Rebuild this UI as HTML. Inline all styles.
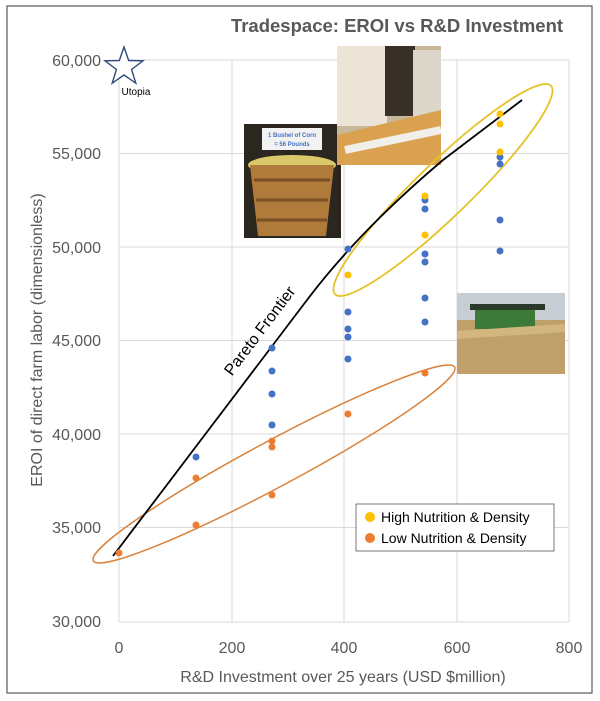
<!DOCTYPE html>
<html><head><meta charset="utf-8"><style>
html,body{margin:0;padding:0;background:#fff;}
svg{display:block;font-family:"Liberation Sans",sans-serif;}
</style></head><body>
<svg width="600" height="701" viewBox="0 0 600 701" xmlns="http://www.w3.org/2000/svg">
<rect x="0" y="0" width="600" height="701" fill="#fff"/>
<rect x="7" y="6" width="585" height="687" fill="none" stroke="#595959" stroke-width="1.2"/>
<text x="397" y="32" text-anchor="middle" font-size="18.5" font-weight="bold" fill="#595959">Tradespace: EROI vs R&amp;D Investment</text>
<g stroke="#d9d9d9" stroke-width="1">
<line x1="119" y1="60" x2="569" y2="60"/><line x1="119" y1="153.5" x2="569" y2="153.5"/>
<line x1="119" y1="247" x2="569" y2="247"/><line x1="119" y1="340.5" x2="569" y2="340.5"/>
<line x1="119" y1="434" x2="569" y2="434"/><line x1="119" y1="527.5" x2="569" y2="527.5"/>
<line x1="119" y1="622" x2="569" y2="622"/>
<line x1="119" y1="60" x2="119" y2="622"/><line x1="232" y1="60" x2="232" y2="622"/>
<line x1="344" y1="60" x2="344" y2="622"/><line x1="457" y1="60" x2="457" y2="622"/>
<line x1="569" y1="60" x2="569" y2="622"/>
</g>
<g font-size="16" fill="#595959" text-anchor="end">
<text x="101" y="66">60,000</text><text x="101" y="159">55,000</text><text x="101" y="253">50,000</text>
<text x="101" y="346">45,000</text><text x="101" y="440">40,000</text><text x="101" y="533">35,000</text>
<text x="101" y="627">30,000</text>
</g>
<g font-size="16" fill="#595959" text-anchor="middle">
<text x="119" y="653">0</text><text x="232" y="653">200</text><text x="344" y="653">400</text>
<text x="457" y="653">600</text><text x="569" y="653">800</text>
<text x="343" y="682">R&amp;D Investment over 25 years (USD $million)</text>
<text transform="translate(42,340) rotate(-90)">EROI of direct farm labor (dimensionless)</text>
</g>
<!-- images -->
<g>
<rect x="244" y="124" width="97" height="114" fill="#2b2620"/>
<rect x="262" y="128" width="60" height="22" fill="#f2f2f2"/>
<text x="292" y="137" font-size="6" fill="#4472c4" text-anchor="middle" font-weight="bold">1 Bushel of Corn</text>
<text x="292" y="146" font-size="6" fill="#4472c4" text-anchor="middle" font-weight="bold">= 56 Pounds</text>
<ellipse cx="292" cy="165" rx="44" ry="10" fill="#d9c96a"/>
<path d="M250,165 L334,165 L326,236 L258,236 Z" fill="#b07a3a"/>
<path d="M254,180 L330,180 M256,200 L328,200 M257,220 L327,220" stroke="#7a4f22" stroke-width="3"/>
</g>
<g>
<rect x="337" y="46" width="104" height="119" fill="#c8b89a"/>
<rect x="337" y="46" width="50" height="80" fill="#ece4d6"/>
<rect x="385" y="46" width="30" height="70" fill="#3a302a"/>
<rect x="413" y="50" width="28" height="70" fill="#ddd6cb"/>
<path d="M337,135 L441,110 L441,165 L337,165 Z" fill="#d9a150"/>
<path d="M345,150 L441,130" stroke="#f1efe9" stroke-width="8"/>
</g>
<g>
<rect x="457" y="293" width="108" height="81" fill="#c7cdd3"/>
<rect x="457" y="320" width="108" height="54" fill="#bfa06a"/>
<rect x="475" y="307" width="60" height="22" fill="#3d7a3a"/>
<rect x="470" y="304" width="75" height="6" fill="#2a3a2a"/>
<path d="M457,335 L565,328" stroke="#d1b77e" stroke-width="8"/>
</g>
<!-- ellipses -->
<ellipse cx="443" cy="190" rx="150" ry="27" transform="rotate(-44 443 190)" fill="none" stroke="#e6c229" stroke-width="1.8"/>
<ellipse cx="274" cy="464" rx="205" ry="23" transform="rotate(-28.2 274 464)" fill="none" stroke="#d9823b" stroke-width="1.5"/>
<!-- pareto -->
<path d="M113,556 L307,300 Q360,230 443,160 Q485,128 522,100" fill="none" stroke="#000" stroke-width="1.8"/>
<text transform="translate(264,334) rotate(-53)" font-size="16" fill="#000" text-anchor="middle">Pareto Frontier</text>
<!-- points -->
<g fill="#4472c4">
<circle cx="196" cy="457" r="3.5"/>
<circle cx="272" cy="348" r="3.5"/><circle cx="272" cy="371" r="3.5"/><circle cx="272" cy="394" r="3.5"/><circle cx="272" cy="425" r="3.5"/>
<circle cx="348" cy="249" r="3.5"/><circle cx="348" cy="312" r="3.5"/><circle cx="348" cy="329" r="3.5"/><circle cx="348" cy="337" r="3.5"/><circle cx="348" cy="359" r="3.5"/>
<circle cx="425" cy="200" r="3.5"/><circle cx="425" cy="209" r="3.5"/><circle cx="425" cy="254" r="3.5"/><circle cx="425" cy="262" r="3.5"/><circle cx="425" cy="298" r="3.5"/><circle cx="425" cy="322" r="3.5"/>
<circle cx="500" cy="157" r="3.5"/><circle cx="500" cy="164" r="3.5"/><circle cx="500" cy="220" r="3.5"/><circle cx="500" cy="251" r="3.5"/>
</g>
<g fill="#ed7d31">
<circle cx="119" cy="553" r="3.5"/>
<circle cx="196" cy="478" r="3.5"/><circle cx="196" cy="525" r="3.5"/>
<circle cx="272" cy="441" r="3.5"/><circle cx="272" cy="447" r="3.5"/><circle cx="272" cy="495" r="3.5"/>
<circle cx="348" cy="414" r="3.5"/><circle cx="425" cy="373" r="3.5"/>
</g>
<g fill="#ffc000">
<circle cx="348" cy="275" r="3.5"/>
<circle cx="425" cy="196" r="3.5"/><circle cx="425" cy="235" r="3.5"/>
<circle cx="500" cy="114" r="3.5"/><circle cx="500" cy="124" r="3.5"/><circle cx="500" cy="152" r="3.5"/>
</g>
<!-- utopia -->
<polygon points="124,47 128.7,60.5 143,60.8 131.6,69.5 135.8,83.2 124,75 112.2,83.2 116.4,69.5 105,60.8 119.3,60.5" fill="#fff" stroke="#2f4a7a" stroke-width="1.4"/>
<text x="136" y="95" font-size="10" fill="#000" text-anchor="middle">Utopia</text>
<!-- legend -->
<rect x="356" y="504" width="198" height="47" fill="#fff" stroke="#595959" stroke-width="0.8"/>
<circle cx="370" cy="517" r="5" fill="#ffc000"/>
<circle cx="370" cy="538" r="5" fill="#ed7d31"/>
<text x="381" y="522" font-size="14" fill="#000">High Nutrition &amp; Density</text>
<text x="381" y="543" font-size="14" fill="#000">Low Nutrition &amp; Density</text>
</svg>
</body></html>
